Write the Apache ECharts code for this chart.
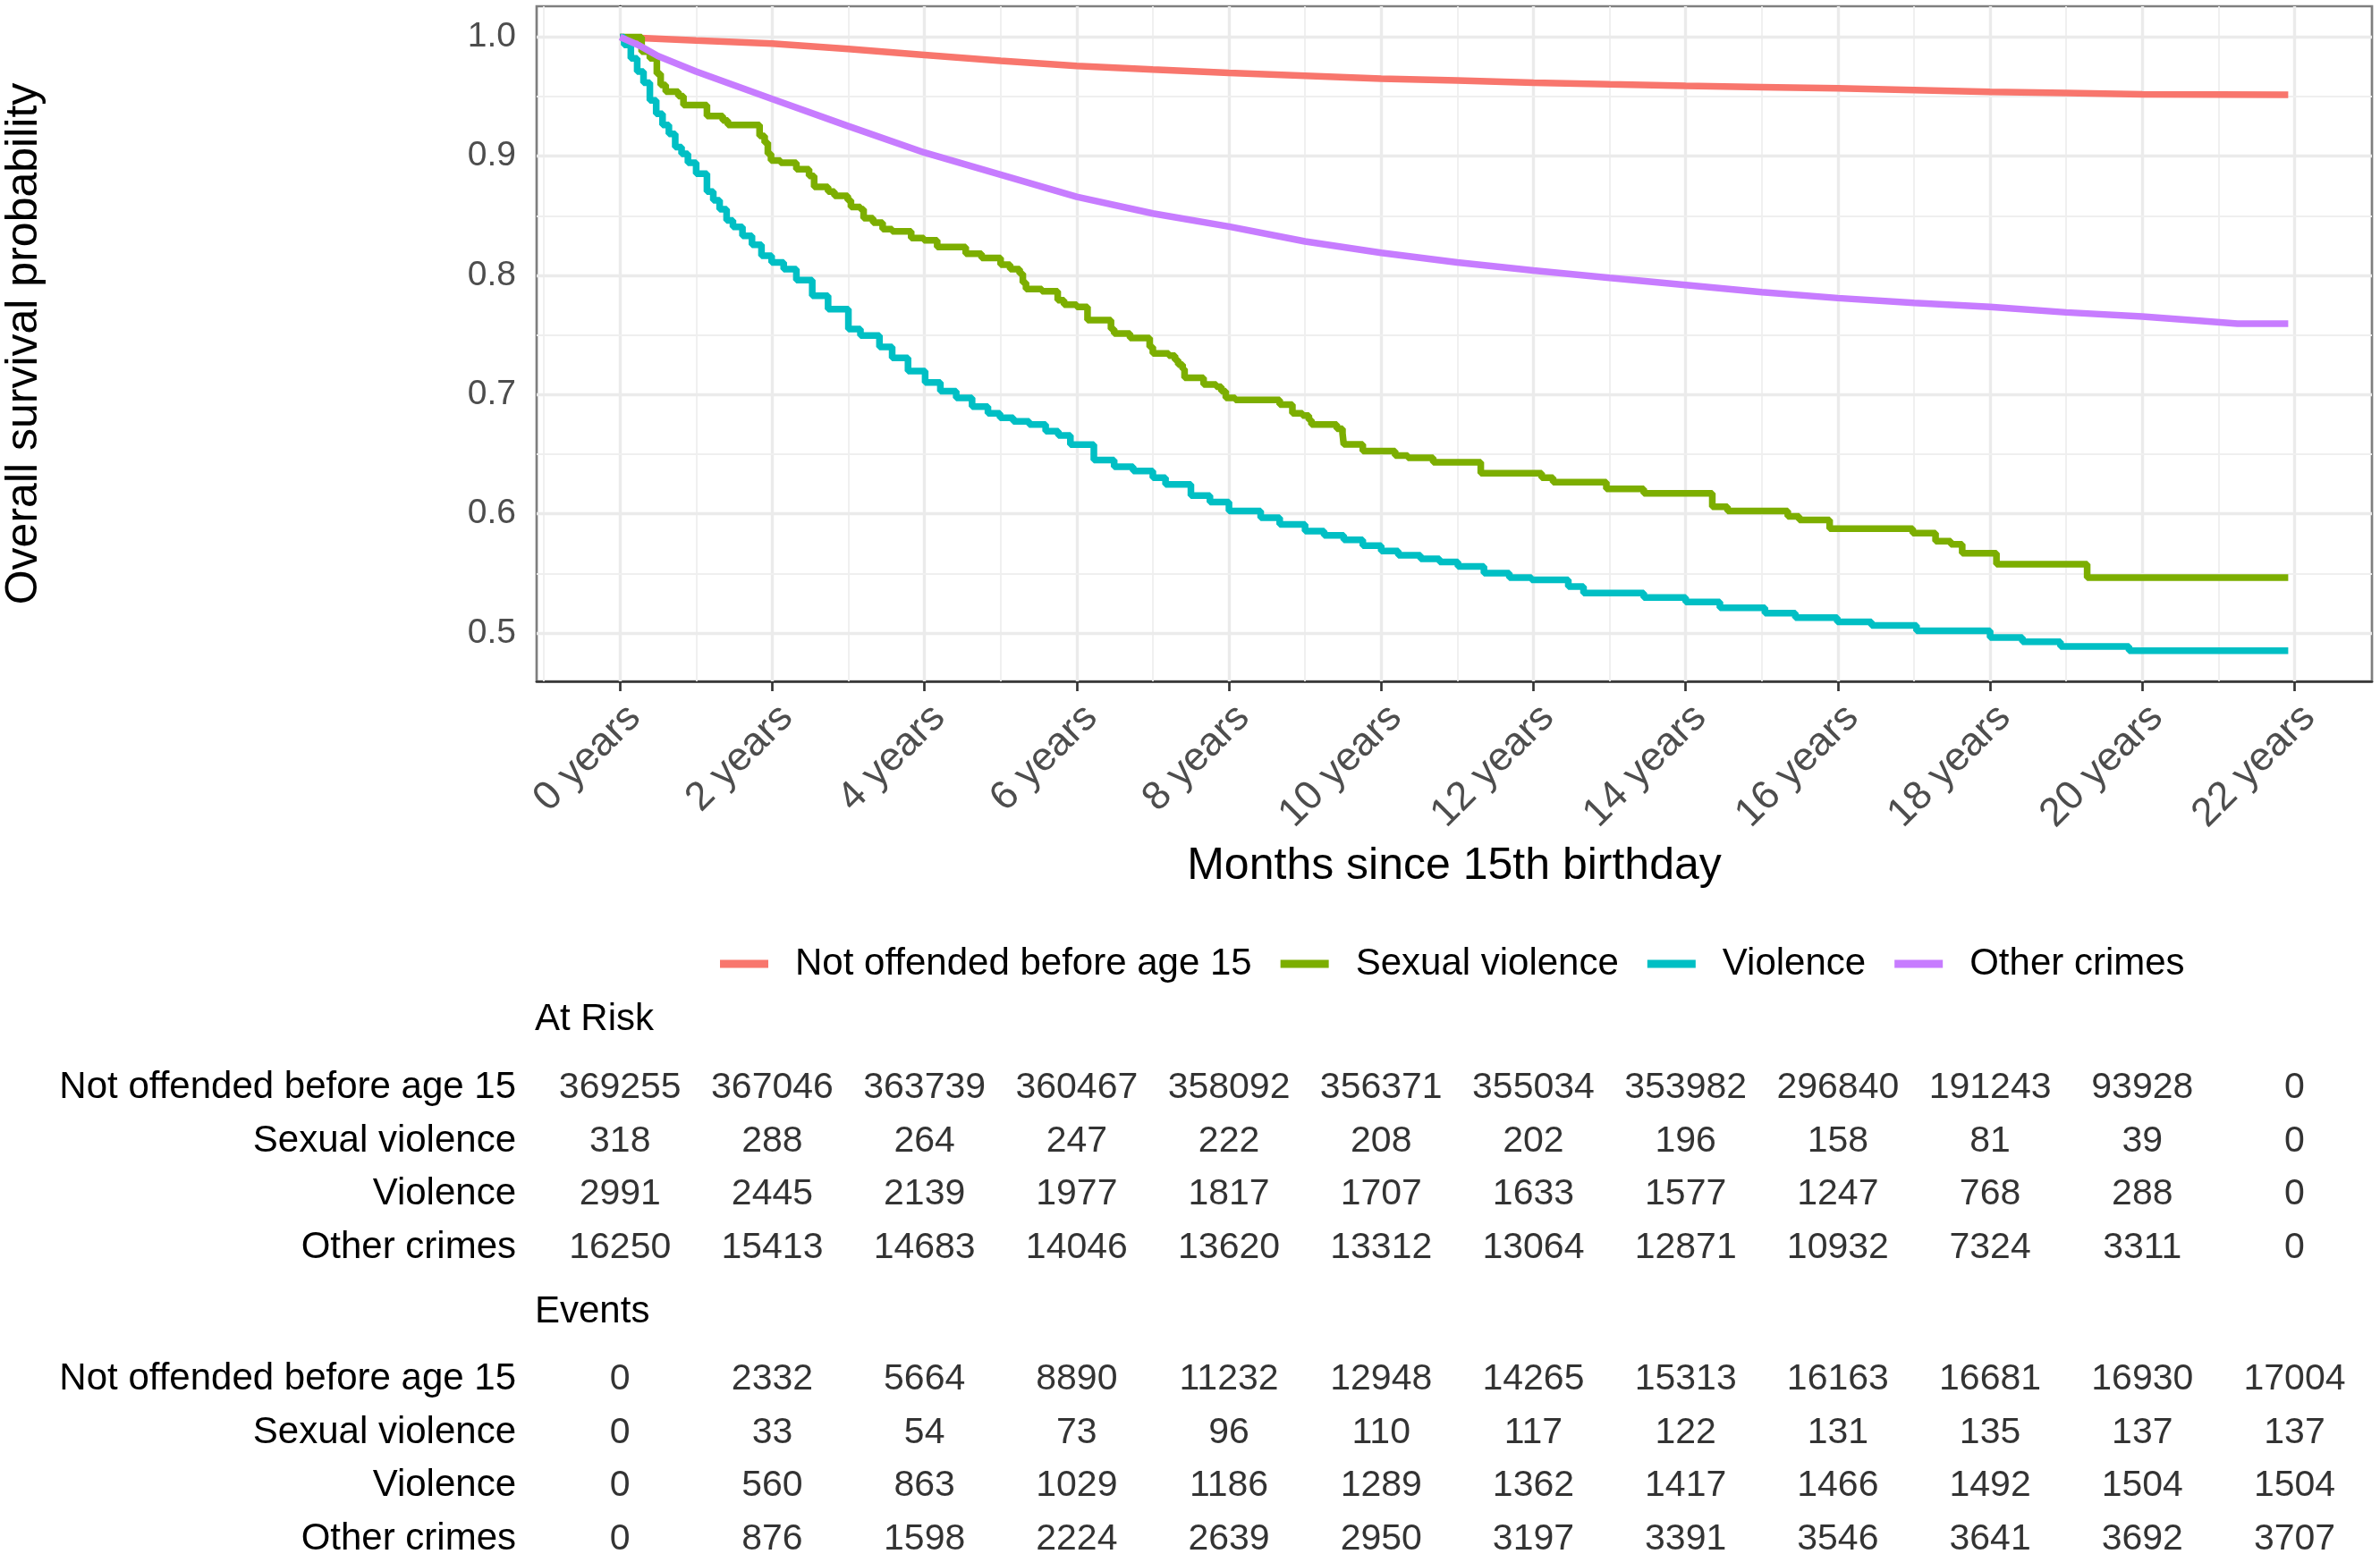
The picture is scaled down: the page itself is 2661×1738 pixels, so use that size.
<!DOCTYPE html>
<html>
<head>
<meta charset="utf-8">
<script src="https://cdn.jsdelivr.net/npm/echarts@6/dist/echarts.min.js"></script>
<style>
  html, body { margin: 0; padding: 0; background: #fff; }
  #survChart { width: 2661px; height: 1738px; }
</style>
</head>
<body>
<div id="survChart"></div>
<script>
// strata and colours
var groups = ['Not offended before age 15', 'Sexual violence', 'Violence', 'Other crimes'];
var colors = ['#F8766D', '#7CAE00', '#00BFC4', '#C77CFF'];

// survival curves, [months, probability]
var notOffended = [[0,1.0],[12,0.9972],[24,0.9945],[36,0.990],[48,0.985],[60,0.980],[72,0.9757],[84,0.9728],[96,0.970],
    [108,0.9675],[120,0.965],[132,0.9635],[144,0.9617],[156,0.9603],[168,0.959],[180,0.958],[192,0.957],[204,0.9555],
    [216,0.954],[228,0.953],[240,0.952],[252,0.9518],[263,0.9515]];
var sexualViolence = [[0,1.0],[3.4,0.9877],[4.7,0.9821],[5.8,0.9691],[6.4,0.9598],[7.2,0.9542],[9.2,0.9505],[10,0.943],
    [13.7,0.9337],[16.2,0.930],[17,0.9263],[22,0.917],[22.8,0.9114],[23.3,0.9021],[23.8,0.8965],[25.3,0.8946],
    [27.8,0.8891],[29.8,0.8835],[30.6,0.8742],[32.8,0.8704],[33.8,0.8667],[35.9,0.863],[36.4,0.8574],[37.9,0.8555],
    [38.4,0.8481],[39.9,0.8443],[41.4,0.8388],[42.9,0.8369],[45.9,0.8313],[47.9,0.8295],[50,0.8239],[54.5,0.8183],
    [57,0.8146],[60,0.809],[61.5,0.8053],[63,0.8016],[63.5,0.7941],[64,0.7885],[66.5,0.7867],[69,0.7792],[70,0.7755],
    [72,0.7736],[73.7,0.7625],[77.4,0.755],[77.9,0.7513],[80.4,0.7476],[83.5,0.7401],[84,0.7346],[86.5,0.7327],
    [87.5,0.729],[88,0.7252],[88.7,0.7215],[89,0.7141],[92,0.7085],[94,0.7066],[94.8,0.7029],[95.5,0.6973],[97,0.6955],
    [104,0.6917],[106,0.6843],[107.6,0.6824],[108.6,0.6787],[109,0.675],[113,0.6713],[113.9,0.6675],[114.1,0.6582],
    [117.1,0.6526],[122.2,0.6489],[124.2,0.6471],[128.2,0.6433],[135.7,0.634],[145.3,0.6303],[147.1,0.6266],
    [155.5,0.621],[161.4,0.6172],[172.2,0.606],[174.6,0.6023],[184.1,0.5979],[185.9,0.5949],[190.7,0.5875],
    [203.8,0.5838],[207.4,0.5771],[209.8,0.5745],[211.6,0.567],[217,0.5577],[231.3,0.5465],[263,0.5465]];
var violence = [[0,1.0],[0.65,0.9933],[1.7,0.9821],[2.7,0.971],[3.7,0.9617],[4.7,0.9468],[5.7,0.9356],[6.7,0.9263],
    [7.7,0.9188],[8.7,0.9077],[9.7,0.9021],[10.7,0.8946],[12,0.8853],[13.7,0.8704],[14.7,0.863],[15.7,0.8555],
    [16.8,0.8462],[17.8,0.8407],[19.3,0.8332],[20.8,0.8258],[22.3,0.8165],[23.9,0.8109],[25.8,0.8053],[27.8,0.796],
    [30.3,0.783],[32.8,0.7718],[36,0.755],[37.9,0.7495],[40.9,0.7401],[42.9,0.7308],[45.4,0.7197],[48.1,0.7103],
    [50.5,0.7029],[53,0.6973],[55.5,0.6899],[58,0.6843],[59.9,0.6806],[62,0.6776],[64.5,0.675],[67.1,0.6694],
    [69.1,0.6657],[71,0.658],[74.7,0.6452],[77.9,0.6396],[80.9,0.6359],[84,0.6303],[86,0.6247],[90,0.6154],
    [93,0.6098],[96,0.6024],[101,0.5968],[104,0.5912],[108,0.5856],[111,0.5819],[114.1,0.5782],[117.1,0.5733],
    [120,0.5689],[122.7,0.5652],[126.2,0.5622],[129.2,0.5596],[132.1,0.5558],[136.2,0.5502],[140.2,0.5465],
    [143.7,0.5447],[149.5,0.5391],[151.9,0.5335],[161.4,0.5298],[168,0.526],[173.4,0.5212],[180.5,0.5167],
    [185.3,0.513],[191.9,0.5093],[197.3,0.5063],[204.4,0.5018],[216,0.4962],[221.1,0.4926],[227.1,0.4888],
    [237.9,0.4851],[263,0.4851]];
var otherCrimes = [[0,1.0],[3,0.993],[6,0.984],[12,0.971],[24,0.948],[36,0.9252],[48,0.903],[60,0.8845],[72,0.866],
    [84,0.852],[96,0.841],[108,0.8285],[120,0.819],[132,0.8109],[144,0.8042],[156,0.798],[168,0.792],[180,0.786],
    [192,0.781],[204,0.777],[216,0.7736],[228,0.769],[240,0.7655],[249,0.762],[255,0.7595],[263,0.7595]];

// axis ticks
var xTicks = [0, 24, 48, 72, 96, 120, 144, 168, 192, 216, 240, 264];
var xMinor = [-12, 12, 36, 60, 84, 108, 132, 156, 180, 204, 228, 252];
var yTicks = [0.5, 0.6, 0.7, 0.8, 0.9, 1.0];
var yMinor = [0.55, 0.65, 0.75, 0.85, 0.95];

// risk tables (one row per group, one column per tick)
var atRisk = [
    [369255, 367046, 363739, 360467, 358092, 356371, 355034, 353982, 296840, 191243, 93928, 0],
    [318, 288, 264, 247, 222, 208, 202, 196, 158, 81, 39, 0],
    [2991, 2445, 2139, 1977, 1817, 1707, 1633, 1577, 1247, 768, 288, 0],
    [16250, 15413, 14683, 14046, 13620, 13312, 13064, 12871, 10932, 7324, 3311, 0]
];
var events = [
    [0, 2332, 5664, 8890, 11232, 12948, 14265, 15313, 16163, 16681, 16930, 17004],
    [0, 33, 54, 73, 96, 110, 117, 122, 131, 135, 137, 137],
    [0, 560, 863, 1029, 1186, 1289, 1362, 1417, 1466, 1492, 1504, 1504],
    [0, 876, 1598, 2224, 2639, 2950, 3197, 3391, 3546, 3641, 3692, 3707]
];

var curves = [notOffended, sexualViolence, violence, otherCrimes];
var stepped = [false, 'end', 'end', false];
var FONT = 'Liberation Sans';
var X_MIN = -13.15, X_MAX = 276.2;

function tableCells(table) {
    var out = [];
    table.forEach(function (row, r) {
        row.forEach(function (v, c) {
            out.push([xTicks[c], r, v]);
        });
    });
    return out;
}

var gridLines = [];
xTicks.forEach(function (v) { gridLines.push({ xAxis: v, lineStyle: { color: '#EBEBEB', width: 3.4, type: 'solid' } }); });
xMinor.forEach(function (v) { gridLines.push({ xAxis: v, lineStyle: { color: '#EFEFEF', width: 1.8, type: 'solid' } }); });
yTicks.forEach(function (v) { gridLines.push({ yAxis: v, lineStyle: { color: '#EBEBEB', width: 3.4, type: 'solid' } }); });
yMinor.forEach(function (v) { gridLines.push({ yAxis: v, lineStyle: { color: '#EFEFEF', width: 1.8, type: 'solid' } }); });

var series = [{
    name: 'grid',
    type: 'line',
    data: [],
    markLine: {
        silent: true,
        z: 1,
        symbol: ['none', 'none'],
        label: { show: false },
        animation: false,
        data: gridLines
    }
}];

curves.forEach(function (d, i) {
    series.push({
        name: groups[i],
        type: 'line',
        data: d,
        step: stepped[i],
        symbol: 'none',
        z: 3,
        lineStyle: { color: colors[i], width: 7.5 },
        itemStyle: { color: colors[i] }
    });
});

[atRisk, events].forEach(function (table, k) {
    series.push({
        name: k === 0 ? 'At Risk' : 'Events',
        type: 'scatter',
        xAxisIndex: k + 1,
        yAxisIndex: k + 1,
        data: tableCells(table),
        symbolSize: 1,
        itemStyle: { color: 'rgba(0,0,0,0)' },
        label: {
            show: true,
            position: 'inside',
            fontSize: 41,
            color: '#000',
            fontFamily: FONT,
            formatter: function (p) { return p.value[2]; }
        }
    });
});

var tableAxisY = function (idx) {
    return {
        gridIndex: idx,
        type: 'category',
        data: groups,
        inverse: true,
        axisLine: { show: false },
        axisTick: { show: false },
        splitLine: { show: false },
        axisLabel: { fontSize: 42, color: '#000', margin: 23, fontFamily: FONT }
    };
};

var survChart = echarts.init(document.getElementById('survChart'));
survChart.setOption({
    animation: false,
    textStyle: { fontFamily: FONT },
    title: [
        { text: 'At Risk', left: 598, top: 1119, padding: 0,
          textStyle: { fontSize: 42, fontWeight: 'normal', color: '#000', fontFamily: FONT } },
        { text: 'Events', left: 598, top: 1446, padding: 0,
          textStyle: { fontSize: 42, fontWeight: 'normal', color: '#000', fontFamily: FONT } }
    ],
    legend: {
        data: groups,
        left: 800,
        top: 1052,
        icon: 'rect',
        itemWidth: 54,
        itemHeight: 9,
        itemGap: 32,
        selectedMode: false,
        textStyle: { fontSize: 42, color: '#000', padding: [0, 0, 0, 25], fontFamily: FONT }
    },
    grid: [
        { left: 600, top: 7, width: 2052, height: 755, containLabel: false, outerBoundsMode: 'none',
          show: true, borderColor: '#7F7F7F', borderWidth: 2.7 },
        { left: 600, top: 1187, width: 2052, height: 238, containLabel: false, outerBoundsMode: 'none' },
        { left: 600, top: 1513, width: 2052, height: 238, containLabel: false, outerBoundsMode: 'none' }
    ],
    xAxis: [{
        gridIndex: 0,
        type: 'value',
        min: X_MIN,
        max: X_MAX,
        name: 'Months since 15th birthday',
        nameLocation: 'middle',
        nameGap: 182,
        nameTextStyle: { fontSize: 50, color: '#000', fontFamily: FONT },
        axisLine: { show: true, onZero: false, lineStyle: { color: '#333333', width: 2.7 } },
        axisTick: { show: true, customValues: xTicks, length: 11, lineStyle: { color: '#333333', width: 2.7 } },
        axisLabel: {
            customValues: xTicks,
            formatter: function (v) { return (v / 12) + ' years'; },
            rotate: 45,
            align: 'right',
            verticalAlign: 'top',
            margin: 18,
            fontSize: 45,
            color: '#4D4D4D',
            fontFamily: FONT
        },
        splitLine: { show: false },
        minorSplitLine: { show: false }
    }, {
        gridIndex: 1, type: 'value', min: X_MIN, max: X_MAX, show: false
    }, {
        gridIndex: 2, type: 'value', min: X_MIN, max: X_MAX, show: false
    }],
    yAxis: [{
        gridIndex: 0,
        type: 'value',
        min: 0.4595,
        max: 1.0258,
        name: 'Overall survival probability',
        nameLocation: 'middle',
        nameRotate: 90,
        nameGap: 548,
        nameTextStyle: { fontSize: 50, color: '#000', fontFamily: FONT },
        axisLine: { show: true, lineStyle: { color: '#333333', width: 2.7 } },
        axisTick: { show: true, customValues: yTicks, length: 11, lineStyle: { color: '#333333', width: 2.7 } },
        axisLabel: {
            customValues: yTicks,
            formatter: function (v) { return v.toFixed(1); },
            margin: 23,
            fontSize: 39,
            color: '#4D4D4D',
            fontFamily: FONT
        },
        splitLine: { show: false }
    }, tableAxisY(1), tableAxisY(2)],
    series: series
});
</script>
</body>
</html>
